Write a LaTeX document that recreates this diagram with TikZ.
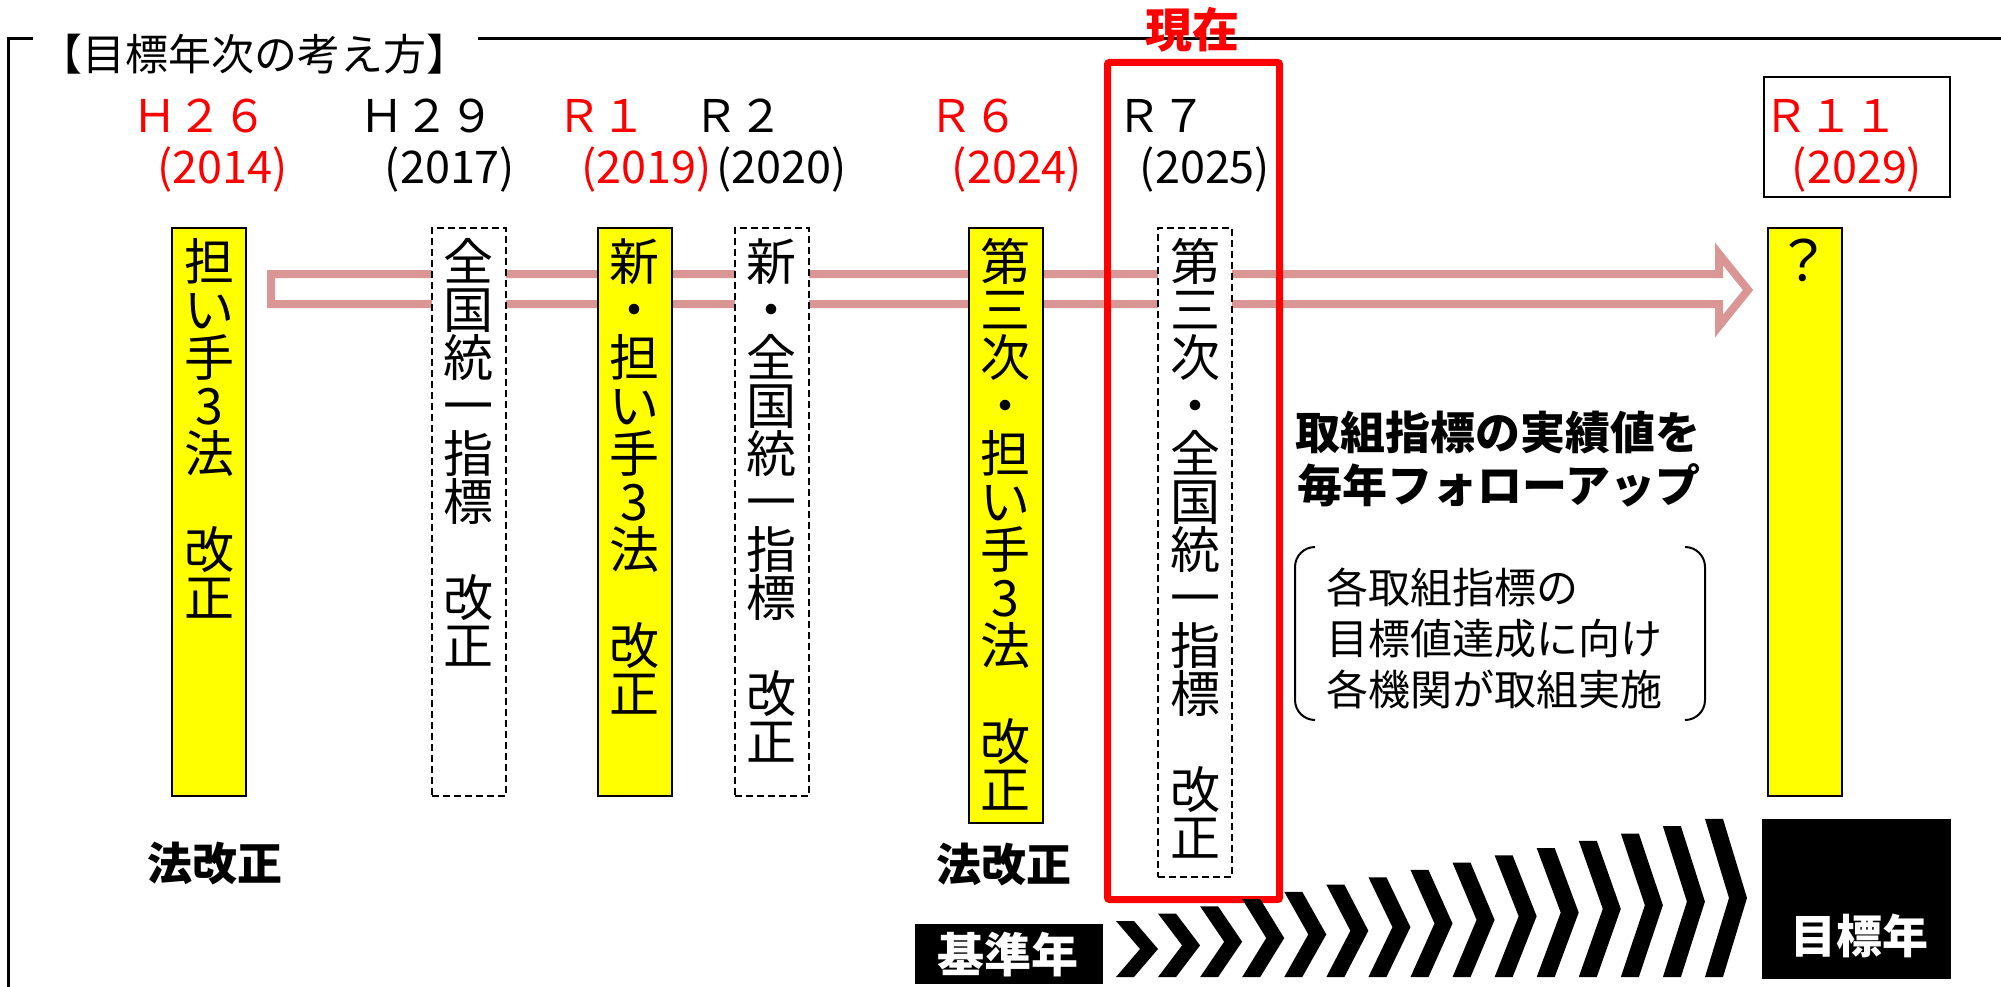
\documentclass[tikz,border=0pt]{standalone}
\usepackage{fontspec}
\setmainfont{Noto Sans CJK JP}
\definecolor{arrowpink}{HTML}{D99694}
\definecolor{hlyellow}{HTML}{FFFF00}
\definecolor{nowred}{HTML}{FF0000}
\tikzset{
 frameline/.style={line width=3, black},
 vbox/.style={rectangle, inner sep=0, minimum width=74, line width=2, draw=black},
 ybox/.style={vbox, fill=hlyellow},
 dbox/.style={vbox, fill=white, dash pattern=on 7pt off 4pt},
 vch/.style={anchor=base, inner sep=0, font=\fontsize{50}{54}\selectfont},
 era/.style={anchor=base, inner sep=0, font=\fontsize{45}{50}\selectfont},
 yr/.style={anchor=base, inner sep=0, font=\fontsize{45}{50}\selectfont},
 boldtxt/.style={anchor=base, inner sep=0, font=\fontsize{45}{50}\selectfont\bfseries},
 note/.style={anchor=base west, inner sep=0, font=\fontsize{42}{50}\selectfont},
 blkbox/.style={rectangle, fill=black, inner sep=0},
 wtxt/.style={anchor=base, inner sep=0, text=white, font=\fontsize{47}{50}\selectfont\bfseries},
}
\newcommand\vcol[3]{\foreach \ch [count=\k from 0] in {#3} {\node[vch] (#1-\k) at (#2,{280+48*\k}) {\ch};}}
\begin{document}
\begin{tikzpicture}[x=1pt,y=-1pt]
\useasboundingbox (0,0) rectangle (2001,987);
% frame
\draw[frameline] (33,39) -- (8,39) -- (8,987);
\draw[frameline] (478,39) -- (2001,39);
\node[anchor=base, inner sep=0, font=\fontsize{43}{46}\selectfont] (title) at (254,71) {【目標年次の考え方】};
% hollow arrow
\draw[arrowpink, line width=8, fill=white, line join=miter]
  (271,274) -- (1719,274) -- (1719,254) -- (1748,290) -- (1719,326) -- (1719,304) -- (271,304) -- cycle;
% vertical boxes
\node[ybox, minimum height=568] (b1) at (209,512) {};
\node[dbox, minimum height=568] (b2) at (468.5,512) {};
\node[ybox, minimum height=568] (b3) at (634.5,512) {};
\node[dbox, minimum height=568] (b4) at (771.5,512) {};
\node[ybox, minimum height=595] (b5) at (1005.5,525.5) {};
\node[dbox, minimum height=649] (b6) at (1195,552.5) {};
\node[ybox, minimum height=568] (b7) at (1805,512) {};
\vcol{c1}{209}{担,い,手,3,法,　,改,正}
\vcol{c2}{468.5}{全,国,統,一,指,標,　,改,正}
\vcol{c3}{634.5}{新,・,担,い,手,3,法,　,改,正}
\vcol{c4}{771.5}{新,・,全,国,統,一,指,標,　,改,正}
\vcol{c5}{1005.5}{第,三,次,・,担,い,手,3,法,　,改,正}
\vcol{c6}{1195}{第,三,次,・,全,国,統,一,指,標,　,改,正}
\node[vch, font=\fontsize{56}{60}\selectfont] (q) at (1803,281) {？};
% current-year frame
\node[rectangle, draw=nowred, line width=7, rounded corners=2, minimum width=172, minimum height=837, inner sep=0] (now) at (1193.5,481) {};
\node[boldtxt, text=nowred, font=\fontsize{47}{50}\selectfont\bfseries] (nowT) at (1192,48) {現在};
% target year box
\node[rectangle, draw=black, line width=2, minimum width=186, minimum height=120, inner sep=0] (r11box) at (1857,137) {};
% era labels
\node[era, text=nowred] (e1) at (200,133) {Ｈ２６};
\node[yr, text=nowred] (y1) at (222.5,183) {(2014)};
\node[era] (e2) at (427,133) {Ｈ２９};
\node[yr] (y2) at (450,183) {(2017)};
\node[era, text=nowred] (e3) at (601.5,133) {Ｒ１};
\node[yr, text=nowred] (y3) at (646.5,183) {(2019)};
\node[era] (e4) at (738.5,133) {Ｒ２};
\node[yr] (y4) at (781.5,183) {(2020)};
\node[era, text=nowred] (e5) at (973,133) {Ｒ６};
\node[yr, text=nowred] (y5) at (1017,183) {(2024)};
\node[era] (e6) at (1161,133) {Ｒ７};
\node[yr] (y6) at (1205,183) {(2025)};
\node[era, text=nowred] (e7) at (1830.5,133) {Ｒ１１};
\node[yr, text=nowred] (y7) at (1857,183) {(2029)};
% law revision labels
\node[boldtxt] (law1) at (214.5,880) {法改正};
\node[boldtxt] (law2) at (1004,881) {法改正};
% follow-up text
\node[boldtxt] (fu1) at (1497.5,449) {取組指標の実績値を};
\node[boldtxt] (fu2) at (1499,502) {毎年フォローアップ};
\node[note] (n1) at (1326,603.5) {各取組指標の};
\node[note] (n2) at (1326,654.5) {目標値達成に向け};
\node[note] (n3) at (1326,705) {各機関が取組実施};
\draw[line width=2, rounded corners=20] (1315,547) -- (1295,547) -- (1295,720) -- (1315,720);
\draw[line width=2, rounded corners=20] (1685,547) -- (1705,547) -- (1705,720) -- (1685,720);
% base year and target year
\node[blkbox, minimum width=188, minimum height=60] (kijun) at (1009,954) {};
\node[wtxt] (kijunT) at (1008,972) {基準年};
\node[blkbox, minimum width=189, minimum height=160] (mokuhyo) at (1856.5,899) {};
\node[wtxt, font=\fontsize{46}{50}\selectfont\bfseries] (mokuhyoT) at (1859,953.5) {目標年};
% chevrons
\foreach \i in {0,...,14} {
  \pgfmathsetmacro\L{1116+42.07*\i}
  \pgfmathsetmacro\T{921-7.29*\i}
  \pgfmathsetmacro\M{(\T+977)/2}
  \fill[black] (\L,\T) -- ({\L+18},\T) -- ({\L+42},\M) -- ({\L+18},977) -- (\L,977) -- ({\L+24},\M) -- cycle;
}
\end{tikzpicture}
\end{document}
